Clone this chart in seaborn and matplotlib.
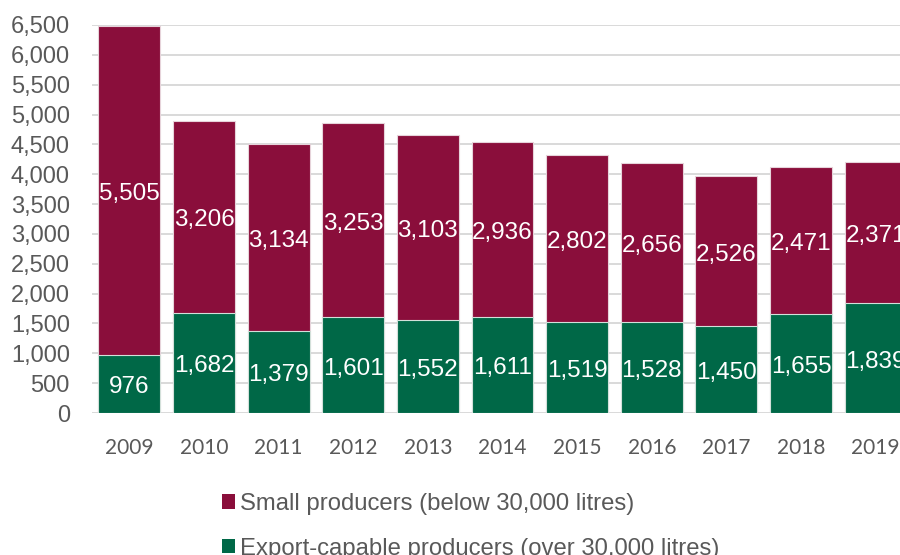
import matplotlib
matplotlib.use("Agg")
import matplotlib.pyplot as plt
import seaborn as sns
import pandas as pd
from matplotlib.patches import Patch
from matplotlib.ticker import FuncFormatter

years = ["2009", "2010", "2011", "2012", "2013", "2014", "2015", "2016", "2017", "2018", "2019"]
export_capable = [976, 1682, 1379, 1601, 1552, 1611, 1519, 1528, 1450, 1655, 1839]
small = [5505, 3206, 3134, 3253, 3103, 2936, 2802, 2656, 2526, 2471, 2371]
y_ticks = list(range(0, 7000, 500))

series_small = "Small producers (below 30,000 litres)"
series_export = "Export-capable producers (over 30,000 litres)"

MAROON = "#8A0E3B"
GREEN = "#006847"
GREY_TEXT = "#595959"
GRID = "#D9D9D9"

df = pd.DataFrame({"year": years, "export": export_capable, "small": small})
df["total"] = df["export"] + df["small"]

sns.set_theme(style="white")
plt.rcParams["font.family"] = ["Liberation Sans", "DejaVu Sans"]

fig = plt.figure(figsize=(9, 5.55), dpi=100)
ax = fig.add_axes([92 / 900, 142 / 555, 821 / 900, 388 / 555])

# stacked bars: full height in maroon, export-capable segment drawn over it in green
sns.barplot(data=df, x="year", y="total", color=MAROON, saturation=1, width=0.83,
            edgecolor="#E6D3DA", linewidth=0.8, ax=ax, zorder=2)
sns.barplot(data=df, x="year", y="export", color=GREEN, saturation=1, width=0.83,
            edgecolor="#D3E0DA", linewidth=0.8, ax=ax, zorder=3)

# value labels centred in each segment
for i, (g, s) in enumerate(zip(export_capable, small)):
    for y, v in ((g / 2, g), (g + s / 2, s)):
        ax.annotate(f"{v:,}", xy=(i, y), xytext=(0, -2.5), textcoords="offset points",
                    ha="center", va="center", color="white", fontsize=17.5, zorder=5)

ax.set_xlim(-0.5, len(years) - 0.5)
ax.set_ylim(0, 6500)
ax.set_yticks(y_ticks)
ax.yaxis.set_major_formatter(FuncFormatter(lambda v, p: f"{int(v):,}"))
ax.grid(axis="y", color=GRID, linewidth=1.4, zorder=0)
ax.set_axisbelow(True)
for sp in ax.spines.values():
    sp.set_visible(False)
ax.set_xlabel("")
ax.set_ylabel("")
ax.tick_params(axis="y", length=0, pad=16, labelsize=17, labelcolor=GREY_TEXT)
ax.tick_params(axis="x", length=0, pad=18, labelsize=15, labelcolor=GREY_TEXT)
for lab in ax.get_xticklabels():
    lab.set_family(["Lato", "DejaVu Sans"])

handles = [Patch(facecolor=MAROON, edgecolor="none", label=series_small),
           Patch(facecolor=GREEN, edgecolor="none", label=series_export)]
fig.legend(handles=handles, loc="upper left", bbox_to_anchor=(222 / 900, 1 - 493 / 555),
           frameon=False, fontsize=17.2, labelcolor=GREY_TEXT, borderpad=0,
           borderaxespad=0, handlelength=0.55, handleheight=0.55,
           handletextpad=0.2, labelspacing=0.95)

fig.savefig("out.png", dpi=100)
